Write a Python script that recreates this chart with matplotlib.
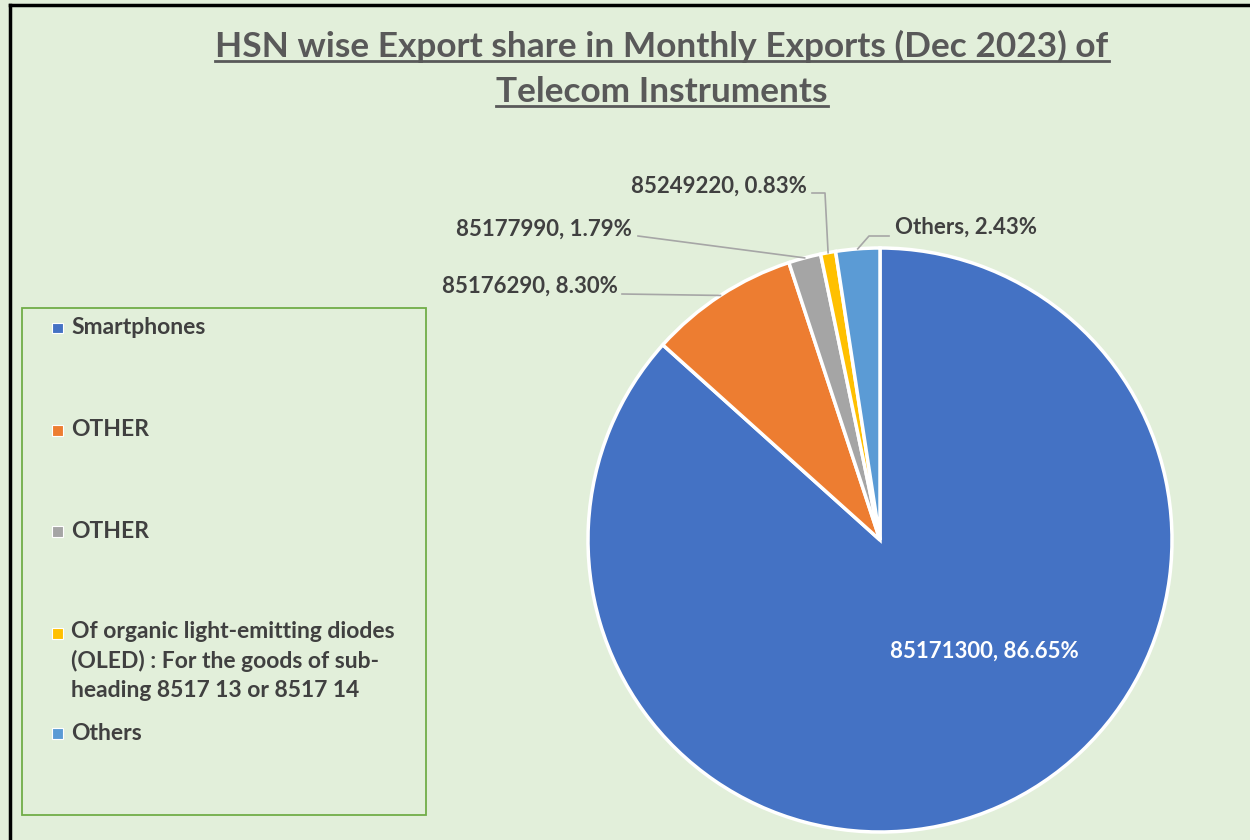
import numpy as np
import matplotlib
matplotlib.use("Agg")
import matplotlib.pyplot as plt
from matplotlib import font_manager
from matplotlib.lines import Line2D
from matplotlib.patches import Rectangle

# ---- data ----
hsn_codes = ["85171300", "85176290", "85177990", "85249220", "Others"]
shares = [86.65, 8.30, 1.79, 0.83, 2.43]
legend_labels = ["Smartphones", "OTHER", "OTHER",
                 "Of organic light-emitting diodes\n(OLED) : For the goods of sub-\nheading 8517 13 or 8517 14",
                 "Others"]
colors = ["#4472C4", "#ED7D31", "#A5A5A5", "#FFC000", "#5B9BD5"]
title_lines = ["HSN wise Export share in Monthly Exports (Dec 2023) of", "Telecom Instruments"]

names = {f.name for f in font_manager.fontManager.ttflist}
title_font = "Lato" if "Lato" in names else "DejaVu Sans"
body_font = "Lato" if "Lato" in names else "DejaVu Sans"

W, H = 1250, 840
BG = "#E2EFDA"
TXT = "#404040"
fig = plt.figure(figsize=(W / 100, H / 100), dpi=100)
fig.patch.set_facecolor(BG)

def fx(x):
    return x / W

def fy(y):
    return 1 - y / H

# border (left and top)
fig.add_artist(Line2D([fx(10), fx(10)], [fy(5), fy(840)], color="black", lw=2.5, transform=fig.transFigure))
fig.add_artist(Line2D([fx(10), fx(1250)], [fy(5), fy(5)], color="black", lw=2.5, transform=fig.transFigure))

# pie
cx, cy, r = 880, 540, 292
ax = fig.add_axes([fx(cx - r), fy(cy + r), 2 * r / W, 2 * r / H])
ax.set_facecolor("none")
wedges, _ = ax.pie(shares, colors=colors, startangle=90, counterclock=False, radius=1,
                   wedgeprops=dict(edgecolor="white", linewidth=2.5))
ax.set_xlim(-1, 1)
ax.set_ylim(-1, 1)
ax.set_aspect("equal")
ax.axis("off")

def edge_point(w):
    th = np.deg2rad((w.theta1 + w.theta2) / 2)
    return np.cos(th), np.sin(th)

# inside label for biggest slice
fig.text(fx(984), fy(651), f"{hsn_codes[0]}, {shares[0]:.2f}%", color="white",
         fontsize=16, fontweight="bold", family=body_font, ha="center", va="center")

# outside labels: (text anchor x, y, ha, leader path in px before wedge point)
label_layout = [
    None,
    (618, 286, "right", [(622, 294)]),
    (632, 229, "right", [(638, 236)]),
    (807, 186, "right", [(812, 193), (825, 193)]),
    (895, 227, "left", [(889, 236), (869, 236)]),
]
lc = "#A6A6A6"
for i in range(1, len(shares)):
    tx, ty, ha, path = label_layout[i]
    fig.text(fx(tx), fy(ty), f"{hsn_codes[i]}, {shares[i]:.2f}%", color=TXT, fontsize=16,
             fontweight="bold", family=body_font, ha=ha, va="center")
    ex, ey = edge_point(wedges[i])
    xs = [fx(p[0]) for p in path]
    ys = [fy(p[1]) for p in path]
    disp = ax.transData.transform((ex, ey))
    fpt = fig.transFigure.inverted().transform(disp)
    xs.append(fpt[0])
    ys.append(fpt[1])
    fig.add_artist(Line2D(xs, ys, color=lc, lw=1.2, transform=fig.transFigure))

# title with underline
baselines = [57, 102]
title_texts = []
for line, b in zip(title_lines, baselines):
    t = fig.text(fx(662), fy(b), line, color="#595959", fontsize=25.4, fontweight="bold",
                 family=title_font, ha="center", va="baseline")
    title_texts.append((t, b))
fig.canvas.draw()
renderer = fig.canvas.get_renderer()
for t, b in title_texts:
    bb = t.get_window_extent(renderer)
    fig.add_artist(Line2D([bb.x0 / W, bb.x1 / W], [fy(b + 4), fy(b + 4)], color="#595959",
                          lw=2, transform=fig.transFigure))

# legend box
fig.add_artist(Rectangle((fx(22), fy(815)), (426 - 22) / W, (815 - 308) / H, fill=False,
                         edgecolor="#70AD47", lw=1.3, transform=fig.transFigure))
legend_rows = [328, 430, 531, 633, 733]
for lab, col, y in zip(legend_labels, colors, legend_rows):
    fig.add_artist(Rectangle((fx(52), fy(y + 5.5)), 11 / W, 11 / H, facecolor=col, edgecolor="white",
                             lw=0.8, transform=fig.transFigure))
    multi = "\n" in lab
    fig.text(fx(71), fy(y - 12) if multi else fy(y), lab, color=TXT, fontsize=16.5,
             fontweight="bold", family=body_font,
             ha="left", va="top" if multi else "center", linespacing=1.45)

fig.savefig("out.png", dpi=100, facecolor=BG)
